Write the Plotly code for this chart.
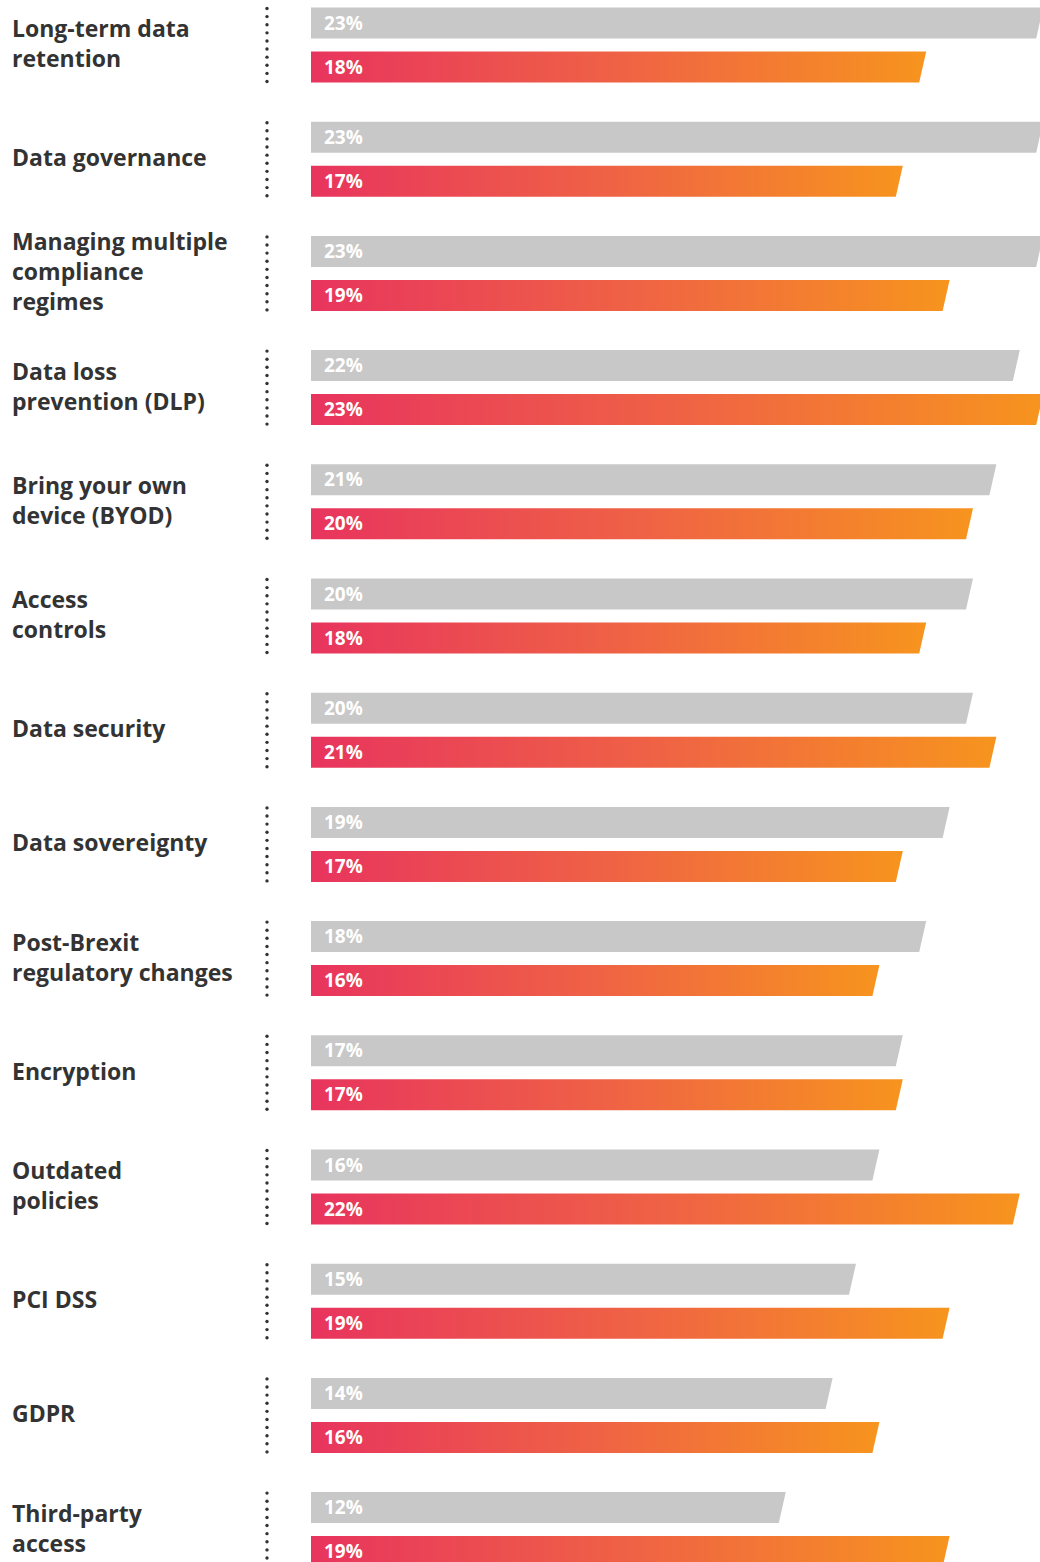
import numpy as np
import plotly.graph_objects as go

# Survey results: share of respondents naming each area as a challenge
categories = [
    "Long-term data<br>retention",
    "Data governance",
    "Managing multiple<br>compliance<br>regimes",
    "Data loss<br>prevention (DLP)",
    "Bring your own<br>device (BYOD)",
    "Access<br>controls",
    "Data security",
    "Data sovereignty",
    "Post-Brexit<br>regulatory changes",
    "Encryption",
    "Outdated<br>policies",
    "PCI DSS",
    "GDPR",
    "Third-party<br>access",
]
grey_values = [23, 23, 23, 22, 21, 20, 20, 19, 18, 17, 16, 15, 14, 12]
colour_values = [18, 17, 19, 23, 20, 18, 21, 17, 16, 17, 22, 19, 16, 19]

# ---- layout constants (pixels) ----
W, H = 1040, 1562
PX_PER_PT = 23.4          # horizontal scale
ZERO_PX = 505             # pixel where 0 % sits
BAR_START_PX = 311        # bars are drawn from a common left edge
PITCH = 114.2             # vertical distance between groups
FIRST_CENTER = 23         # centre of first grey bar
PAIR_GAP = 44             # grey centre -> coloured centre
BAR_H = 31
SLANT_PX = 7

x_min = -ZERO_PX / PX_PER_PT
x_max = (W - ZERO_PX) / PX_PER_PT
base = (BAR_START_PX - ZERO_PX) / PX_PER_PT
slant = SLANT_PX / PX_PER_PT
dots_x = (267 - ZERO_PX) / PX_PER_PT

GREY = "#C8C8C8"
GRADIENT = [[0.0, "#E8345E"], [0.5, "#EF6245"], [1.0, "#F7941E"]]
TEXT = "#333333"
FONT = "Open Sans"

fig = go.Figure()
annotations = []


def bar_shape(value, yc):
    top, bot = yc - BAR_H / 2, yc + BAR_H / 2
    xs = [base, value, value - slant, base, base]
    ys = [top, top, bot, bot, top]
    return xs, ys


for i, (cat, gv, cv) in enumerate(zip(categories, grey_values, colour_values)):
    yg = FIRST_CENTER + PITCH * i
    yc = yg + PAIR_GAP

    xs, ys = bar_shape(gv, yg)
    fig.add_trace(go.Scatter(
        x=xs, y=ys, mode="lines", fill="toself", fillcolor=GREY,
        line=dict(width=0, color=GREY), hoverinfo="skip", showlegend=False,
    ))
    xs, ys = bar_shape(cv, yc)
    fig.add_trace(go.Scatter(
        x=xs, y=ys, mode="lines", fill="toself",
        fillgradient=dict(type="horizontal", colorscale=GRADIENT),
        line=dict(width=0, color="rgba(0,0,0,0)"), hoverinfo="skip", showlegend=False,
    ))

    for val, y in ((gv, yg), (cv, yc)):
        annotations.append(dict(
            x=base, y=y, xref="x", yref="y", xanchor="left", yanchor="middle",
            xshift=11, yshift=1, height=21, text=f"{val}%", showarrow=False,
            font=dict(family=FONT, size=19, color="white", weight=700),
        ))

    # category label, centred on the pair
    annotations.append(dict(
        x=10 / W, y=(yg + yc) / 2, xref="paper", yref="y",
        xanchor="left", yanchor="middle", align="left", text=cat,
        yshift=2, showarrow=False,
        font=dict(family=FONT, size=23, color=TEXT, weight=700),
    ))

    # dotted separator
    dy = np.linspace(yg - BAR_H / 2 + 1, yc + BAR_H / 2 - 1, 10)
    fig.add_trace(go.Scatter(
        x=[dots_x] * len(dy), y=dy, mode="markers",
        marker=dict(size=3.4, color=TEXT), hoverinfo="skip", showlegend=False,
    ))

fig.update_layout(
    width=W, height=H,
    margin=dict(l=0, r=0, t=0, b=0),
    paper_bgcolor="white", plot_bgcolor="white",
    xaxis=dict(range=[x_min, x_max], visible=False, fixedrange=True),
    yaxis=dict(range=[H, 0], visible=False, fixedrange=True),
    annotations=annotations,
    showlegend=False,
)

fig.write_html("out.html")
